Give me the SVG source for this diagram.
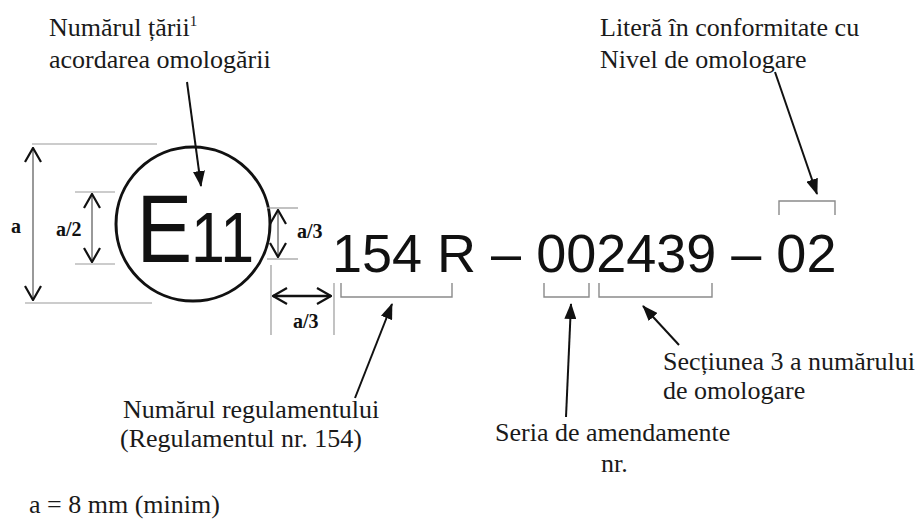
<svg xmlns="http://www.w3.org/2000/svg" width="922" height="522" viewBox="0 0 922 522">
<style>
.lbl{font-family:"Liberation Serif","Times New Roman",serif;font-size:26px;fill:#1a1a1a}
.dim{font-family:"Liberation Serif","Times New Roman",serif;font-size:20px;font-weight:bold;fill:#111}
.big{font-family:"Liberation Sans",Arial,sans-serif;fill:#111}
.ext{stroke:#9a9a9a;stroke-width:1.2;fill:none}
.brk{stroke:#8a8a8a;stroke-width:1.4;fill:none}
.dline{stroke:#555;stroke-width:1.2;fill:none}
.ptr{stroke:#111;stroke-width:2;fill:none;marker-end:url(#arr)}
</style>
<defs>
<marker id="arr" viewBox="0 0 16 12" refX="15" refY="6" markerWidth="16" markerHeight="12" markerUnits="userSpaceOnUse" orient="auto">
<path d="M0,0 L16,6 L0,12 z" fill="#111"/>
</marker>
<marker id="chev" viewBox="0 0 16 18" refX="15" refY="9" markerWidth="16" markerHeight="18" markerUnits="userSpaceOnUse" orient="auto-start-reverse">
<path d="M1,1 L15,9 L1,17" fill="none" stroke="#111" stroke-width="2.2"/>
</marker>
</defs>
<rect width="922" height="522" fill="#fff"/>

<g id="mark">
<circle cx="193" cy="224" r="77" fill="none" stroke="#111" stroke-width="3"/>
<text class="big" font-size="96" transform="translate(136.6,262) scale(0.87,1)">E</text>
<text class="big" font-size="70" transform="translate(191,262) scale(0.87,1)">11</text>
</g>

<g id="dim-a">
<line class="ext" x1="32" y1="144" x2="157" y2="144"/>
<line class="ext" x1="25" y1="303" x2="152" y2="303"/>
<line class="dline" x1="33" y1="148" x2="33" y2="300" marker-start="url(#chev)" marker-end="url(#chev)"/>
<text class="dim" x="11" y="233">a</text>
</g>

<g id="dim-a2">
<line class="ext" x1="75" y1="192" x2="115" y2="192"/>
<line class="ext" x1="75" y1="264" x2="115" y2="264"/>
<line class="dline" x1="92" y1="194" x2="92" y2="262" marker-start="url(#chev)" marker-end="url(#chev)"/>
<text class="dim" x="56" y="236">a/2</text>
</g>

<g id="dim-a3v">
<line class="ext" x1="267" y1="208" x2="298" y2="208"/>
<line class="ext" x1="267" y1="259" x2="298" y2="259"/>
<line class="dline" x1="278" y1="210" x2="278" y2="257" marker-start="url(#chev)" marker-end="url(#chev)"/>
<text class="dim" x="297" y="238">a/3</text>
</g>

<g id="dim-a3h">
<line class="ext" x1="271" y1="265" x2="271" y2="335"/>
<line class="ext" x1="334" y1="283" x2="334" y2="335"/>
<line x1="273" y1="296" x2="331" y2="296" stroke="#111" stroke-width="2.4" marker-start="url(#chev)" marker-end="url(#chev)"/>
<text class="dim" x="293" y="328">a/3</text>
</g>

<g id="code">
<text class="big" x="332" y="272" font-size="54">154 R – 002439 – 02</text>
</g>

<g id="brackets">
<path class="brk" d="M341,283 V297 H452 V283"/>
<path class="brk" d="M544,283 V297 H589 V283"/>
<path class="brk" d="M599,283 V297 H712 V283"/>
<path class="brk" d="M779,215 V201 H835 V215"/>
</g>

<g id="connectors">
<line class="ptr" x1="187" y1="82" x2="201" y2="186"/>
<line class="ptr" x1="775" y1="72" x2="817" y2="194"/>
<line class="ptr" x1="355" y1="398" x2="392" y2="304"/>
<line class="ptr" x1="566" y1="417" x2="571" y2="304"/>
<line class="ptr" x1="679" y1="345" x2="643" y2="306"/>
</g>

<g id="label-country">
<text class="lbl" x="49" y="36">Numărul țării<tspan font-size="15" dy="-10">1</tspan></text>
<text class="lbl" x="49" y="68">acordarea omologării</text>
</g>
<g id="label-letter">
<text class="lbl" x="600" y="36">Literă în conformitate cu</text>
<text class="lbl" x="600" y="68">Nivel de omologare</text>
</g>
<g id="label-reg">
<text class="lbl" x="123" y="418">Numărul regulamentului</text>
<text class="lbl" x="120" y="447">(Regulamentul nr. 154)</text>
</g>
<g id="label-series">
<text class="lbl" x="495" y="441">Seria de amendamente</text>
<text class="lbl" x="601" y="472">nr.</text>
</g>
<g id="label-section">
<text class="lbl" x="663" y="370">Secțiunea 3 a numărului</text>
<text class="lbl" x="663" y="399">de omologare</text>
</g>
<g id="note">
<text class="lbl" x="29" y="513">a = 8 mm (minim)</text>
</g>
</svg>
